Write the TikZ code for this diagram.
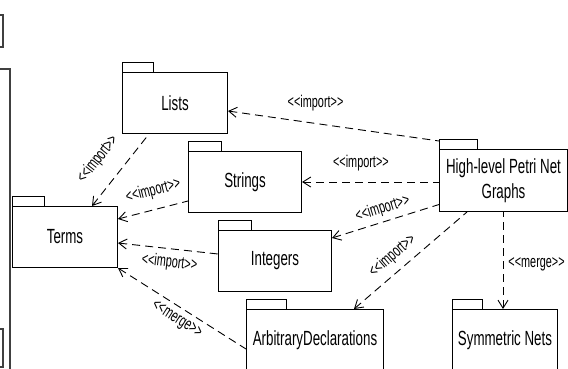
\documentclass[tikz,border=0pt]{standalone}
\usepackage{fontspec}
\setmainfont{Liberation Sans}[FakeStretch=0.65]
\newfontfamily\lblfont{Liberation Sans}[FakeStretch=0.64]
\usepackage{tikz}
\usetikzlibrary{arrows.meta, positioning, calc}

\newcommand{\stype}[1]{<\kern0pt<#1>\kern0pt>}

\begin{document}
\begin{tikzpicture}[x=1pt, y=-1pt,
    pkg/.style={draw, line width=1pt, rectangle, anchor=north west, align=center, minimum height=61pt, inner sep=2pt, font=\fontsize{20.5}{24.5}\selectfont},
    tab/.style={draw, line width=.9pt},
    dep/.style={line width=.9pt, dash pattern=on 8pt off 5pt, {Straight Barb[length=8pt,width=10pt]}-},
    lbl/.style={font=\lblfont\fontsize{17}{19}\selectfont, inner sep=1pt},
    frame/.style={line width=1.4pt, black!75}]
    \useasboundingbox (0,0) rectangle (568,369);
    \clip (0,0) rectangle (568,369);

    \draw[frame] (-10,15) rectangle (3,47);
    \draw[frame] (-5,69) -| (10,380);
    \draw[frame] (-10,329) rectangle (3,367);

    \node (terms) [pkg, minimum width=105pt] at (12,206) {Terms};
    \node (lists) [pkg, minimum width=105pt] at (122,72) {Lists};
    \node (strings) [pkg, minimum width=113pt] at (188,151) {Strings};
    \node (integers) [pkg, minimum width=113pt] at (218,230) {Integers};
    \node (arbdecl) [pkg, minimum width=137pt] at (246,309) {ArbitraryDeclarations};
    \node (symnets) [pkg, minimum width=105pt] at (452,309) {Symmetric Nets};
    \node (hlpng) [pkg, minimum width=128pt, minimum height=62pt] at (439,149) {High-level Petri Net\\Graphs};
    \foreach \n/\w in {terms/32, lists/31, strings/33, integers/33, arbdecl/40, symnets/30, hlpng/38}
        \draw[tab] (\n.north west) rectangle ++(\w,-10);

    \draw[dep] ([xshift=80pt]terms.north west) -- node[lbl, sloped, pos=0.44, above=15pt] {\stype{import}} ([xshift=27pt]lists.south west);
    \draw[dep] ([yshift=-13pt]terms.north east) -- node[lbl, sloped, pos=0.57, above=9pt] {\stype{import}} ([yshift=-19pt]strings.west);
    \draw[dep] ([yshift=-6pt]terms.east) -- node[lbl, sloped, pos=0.53, below=4.9pt] {\stype{import}} ([yshift=7pt]integers.west);
    \draw[dep] (terms.south east) -- node[lbl, sloped, pos=0.51, below=4.4pt] {\stype{merge}} ([yshift=-9pt]arbdecl.west);

    \draw[dep] ([yshift=-8pt]lists.east) -- node[lbl, pos=0.415, above=11pt] {\stype{import}} ([yshift=8pt]hlpng.north west);
    \draw[dep] (strings.east) -- node[lbl, pos=0.43, above=9.6pt] {\stype{import}} (strings.east -| hlpng.west);
    \draw[dep] ([yshift=-8pt]integers.north east) -- node[lbl, sloped, pos=0.51, above=3.5pt] {\stype{import}} ([yshift=-24pt]hlpng.west);
    \draw[dep] ([xshift=-30pt]arbdecl.north east) -- node[lbl, sloped, pos=0.43, above=5.9pt] {\stype{import}} ([xshift=28pt]hlpng.south west);
    \coordinate (mrg) at ([xshift=51pt]symnets.north west);
    \draw[dep] (mrg) -- node[lbl, pos=0.46, right=4pt] {\stype{merge}} (mrg |- hlpng.south);
\end{tikzpicture}
\end{document}
